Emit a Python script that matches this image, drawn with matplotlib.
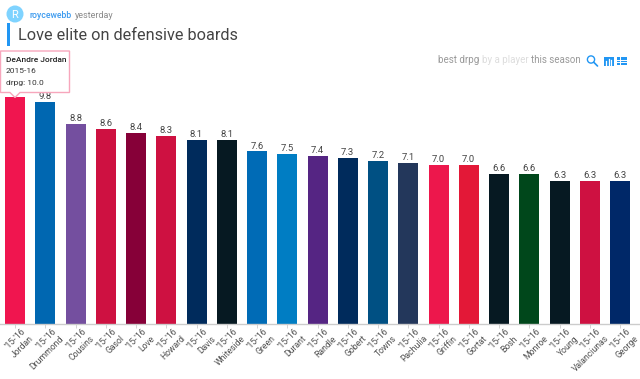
import matplotlib
matplotlib.use('Agg')
import matplotlib.pyplot as plt
from matplotlib.patches import Circle, Rectangle, Polygon

plt.rcParams['font.family'] = ['Roboto', 'DejaVu Sans']

players = ['Jordan', 'Drummond', 'Cousins', 'Gasol', 'Love', 'Howard', 'Davis',
           'Whiteside', 'Green', 'Durant', 'Randle', 'Gobert', 'Towns', 'Pachulia',
           'Griffin', 'Gortat', 'Bosh', 'Monroe', 'Young', 'Valanciunas', 'George']
seasons = ["'15-'16"] * 21
drpg = [10.0, 9.8, 8.8, 8.6, 8.4, 8.3, 8.1, 8.1, 7.6, 7.5, 7.4, 7.3, 7.2, 7.1,
        7.0, 7.0, 6.6, 6.6, 6.3, 6.3, 6.3]
value_labels = ['', '9.8', '8.8', '8.6', '8.4', '8.3', '8.1', '8.1', '7.6', '7.5', '7.4',
                '7.3', '7.2', '7.1', '7.0', '7.0', '6.6', '6.6', '6.3', '6.3', '6.3']
colors = ['#F0154F', '#0067B1', '#744F9F', '#CE1141', '#860038', '#CE1141', '#002B5C',
          '#061922', '#006BB6', '#007DC3', '#552583', '#002B5C', '#005083', '#23375B',
          '#ED174C', '#E31837', '#061922', '#00471B', '#061922', '#CE1141', '#002868']

W, H = 640, 379
fig = plt.figure(figsize=(W / 100, H / 100), dpi=100, facecolor='white')

# layer in pixel coords for everything round the chart
bg = fig.add_axes([0, 0, 1, 1])
bg.set_xlim(0, W)
bg.set_ylim(H, 0)
bg.axis('off')

# chart, axes run edge to edge
base_y = 324
top_y = 97
ax = fig.add_axes([0, 1 - base_y / H, 1, (base_y - top_y) / H])
ax.patch.set_alpha(0)
pitch = 30.25
ax.set_xlim(-15 / pitch, (W - 15) / pitch)
ax.set_ylim(0, 10)
xs = list(range(len(drpg)))
ax.bar(xs, drpg, width=20 / pitch, color=colors)
for sp in ['top', 'left', 'right']:
    ax.spines[sp].set_visible(False)
ax.spines['bottom'].set_color('#cccccc')
ax.spines['bottom'].set_linewidth(1)
ax.set_yticks([])
ax.set_xticks(xs)
ax.set_xticklabels([])
ax.tick_params(axis='x', length=3, width=0.6, color='#cccccc')

for x, v, lab in zip(xs, drpg, value_labels):
    ax.annotate(lab, (x, v), xytext=(0, 0.7), textcoords='offset points', ha='center',
                va='bottom', fontsize=6.8, color='#444444')
for x, s, name in zip(xs, seasons, players):
    ax.annotate(s, (x, 0), xytext=(0.7, -10.5), textcoords='offset points', ha='center',
                va='center', rotation=45, rotation_mode='anchor', fontsize=6.2, color='#505050')
    ax.annotate(name, (x, 0), xytext=(12.5, -9.5), textcoords='offset points', ha='right',
                va='center', rotation=45, rotation_mode='anchor', fontsize=6.2, color='#505050')

# header
bg.add_patch(Circle((15, 14), 8.5, color='#7FD3FF', lw=0))
bg.text(15, 14.5, 'R', color='white', fontsize=8, ha='center', va='center')
bg.text(29, 15.5, 'roycewebb', color='#3D9BEF', fontsize=6.2, fontweight='medium', va='center')
bg.text(75, 15.5, 'yesterday', color='#8a8a8a', fontsize=6.5, va='center')
bg.add_patch(Rectangle((7, 23), 3, 23, color='#2196F3', lw=0))
bg.text(18, 36, 'Love elite on defensive boards', color='#444444', fontsize=11.7, va='center')

# filter text
bg.text(438, 60, 'best drpg', color='#999999', fontsize=7, va='center')
bg.text(482, 60, 'by a player', color='#dddddd', fontsize=7, va='center')
bg.text(531, 60, 'this season', color='#999999', fontsize=7, va='center')

# search + chart + list icons
bg.add_patch(Circle((591, 59.5), 3.6, fill=False, ec='#2196F3', lw=1))
bg.plot([593.8, 597.5], [62.3, 66], color='#2196F3', lw=1.2, solid_capstyle='round')
bg.add_patch(Rectangle((604, 57), 9.5, 9, color='#2196F3', lw=0))
bg.plot([606, 606], [61, 64.5], color='white', lw=0.9)
bg.plot([608.5, 608.5], [58.5, 64.5], color='white', lw=0.9)
bg.plot([611, 611], [60, 64.5], color='white', lw=0.9)
bg.add_patch(Rectangle((617, 57), 10, 8, color='#2196F3', lw=0))
bg.plot([617, 627], [59.8, 59.8], color='white', lw=0.7)
bg.plot([617, 627], [62.4, 62.4], color='white', lw=0.7)
bg.plot([619.5, 619.5], [57, 65], color='white', lw=0.7)

# tooltip over the first bar
tip = fig.add_axes([0, 0, 1, 1])
tip.set_xlim(0, W)
tip.set_ylim(H, 0)
tip.axis('off')
tip.patch.set_alpha(0)
tip.add_patch(Polygon([(0.5, 51), (69.5, 51), (69.5, 92.5), (20, 92.5), (15, 97.5), (10, 92.5), (0.5, 92.5)],
                      closed=True, fc='white', ec='#F7A6BC', lw=1))
tip.text(6, 60, 'DeAndre Jordan', color='#222222', fontsize=6, fontweight='medium', va='center')
tip.text(6, 71, '2015-16', color='#333333', fontsize=6, va='center')
tip.text(6, 82.5, 'drpg: 10.0', color='#333333', fontsize=6, va='center')

fig.savefig('out.png', dpi=100)
